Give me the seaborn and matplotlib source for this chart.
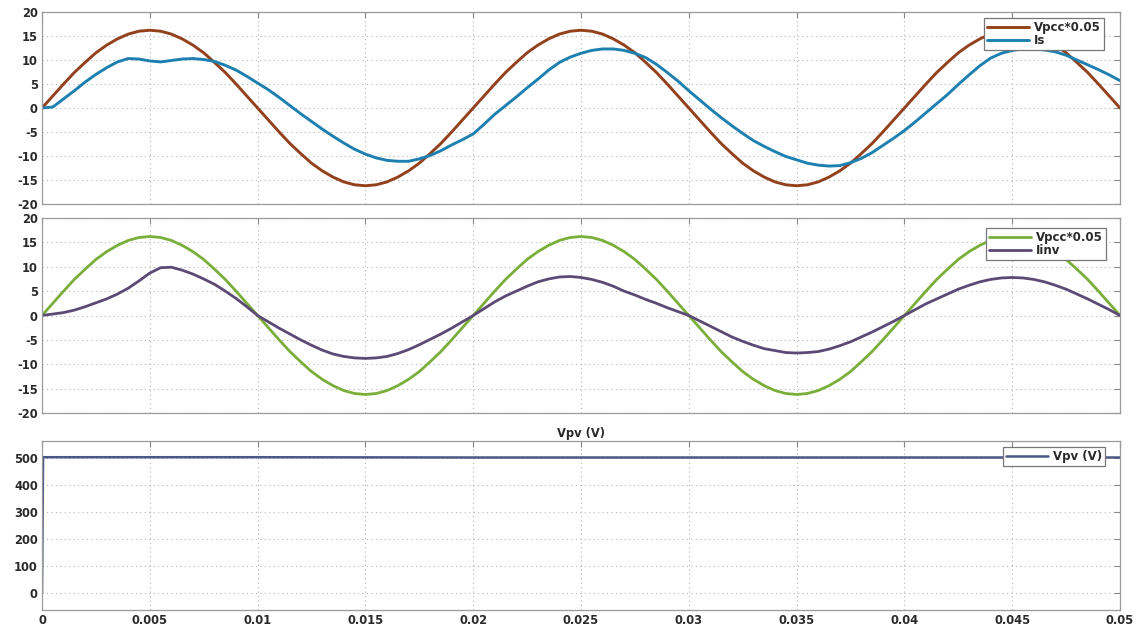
import numpy as np
import pandas as pd
import matplotlib
matplotlib.use("Agg")
import matplotlib.pyplot as plt
import seaborn as sns

# ---- data (time step 0.5 ms) ----
t = np.linspace(0, 0.05, 101)

vpcc_scaled = [0, 2.5, 5.0, 7.4, 9.5, 11.5, 13.1, 14.4, 15.4, 16.0,
               16.2, 16.0, 15.4, 14.4, 13.1, 11.5, 9.5, 7.4, 5.0, 2.5,
               0, -2.5, -5.0, -7.4, -9.5, -11.5, -13.1, -14.4, -15.4, -16.0,
               -16.2, -16.0, -15.4, -14.4, -13.1, -11.5, -9.5, -7.4, -5.0, -2.5,
               0, 2.5, 5.0, 7.4, 9.5, 11.5, 13.1, 14.4, 15.4, 16.0,
               16.2, 16.0, 15.4, 14.4, 13.1, 11.5, 9.5, 7.4, 5.0, 2.5,
               0, -2.5, -5.0, -7.4, -9.5, -11.5, -13.1, -14.4, -15.4, -16.0,
               -16.2, -16.0, -15.4, -14.4, -13.1, -11.5, -9.5, -7.4, -5.0, -2.5,
               0, 2.5, 5.0, 7.4, 9.5, 11.5, 13.1, 14.4, 15.4, 16.0,
               16.2, 16.0, 15.4, 14.4, 13.1, 11.5, 9.5, 7.4, 5.0, 2.5, 0]

i_s = [0, 0.2, 1.9, 3.6, 5.4, 7.0, 8.4, 9.6, 10.3, 10.2,
       9.8, 9.6, 9.9, 10.2, 10.3, 10.1, 9.7, 8.9, 7.9, 6.6,
       5.2, 3.8, 2.2, 0.5, -1.2, -2.8, -4.4, -5.9, -7.3, -8.6,
       -9.6, -10.4, -10.9, -11.1, -11.1, -10.6, -9.9, -8.9, -7.7, -6.6,
       -5.4, -3.4, -1.3, 0.5, 2.3, 4.2, 6.0, 7.9, 9.5, 10.6,
       11.4, 12.0, 12.3, 12.3, 12.0, 11.4, 10.5, 9.1, 7.4, 5.6,
       3.6, 1.7, -0.2, -2.0, -3.7, -5.3, -6.8, -8.0, -9.1, -10.1,
       -10.8, -11.5, -11.9, -12.1, -12.0, -11.4, -10.5, -9.3, -7.8, -6.3,
       -4.7, -2.9, -1.0, 0.9, 2.8, 4.9, 6.9, 8.8, 10.4, 11.4,
       12.0, 12.3, 12.3, 12.1, 11.7, 11.0, 10.0, 9.0, 8.0, 6.9, 5.7]

i_inv = [0, 0.3, 0.6, 1.1, 1.8, 2.6, 3.4, 4.4, 5.6, 7.1,
         8.7, 9.8, 9.9, 9.3, 8.5, 7.5, 6.4, 5.0, 3.5, 1.8,
         0, -1.3, -2.6, -3.8, -5.0, -6.1, -7.1, -7.9, -8.4, -8.7,
         -8.8, -8.7, -8.4, -7.8, -7.0, -6.0, -4.9, -3.8, -2.6, -1.3,
         0, 1.4, 2.8, 4.0, 5.0, 6.0, 6.9, 7.5, 7.9, 8.0,
         7.8, 7.4, 6.8, 6.0, 5.0, 4.2, 3.3, 2.5, 1.6, 0.8,
         0, -1.1, -2.2, -3.3, -4.4, -5.3, -6.1, -6.8, -7.2, -7.6,
         -7.7, -7.6, -7.4, -6.9, -6.2, -5.4, -4.4, -3.4, -2.3, -1.2,
         0, 1.2, 2.4, 3.4, 4.4, 5.4, 6.2, 6.9, 7.4, 7.7,
         7.8, 7.7, 7.4, 6.9, 6.2, 5.4, 4.4, 3.4, 2.3, 1.2, 0]

vpv_t = [0, 0.00005, 0.01, 0.02, 0.03, 0.04, 0.05]
vpv = [0, 503, 503, 502, 502, 502, 502]

x_ticks = [0, 0.005, 0.01, 0.015, 0.02, 0.025, 0.03, 0.035, 0.04, 0.045, 0.05]
x_tick_labels = ["0", "0.005", "0.01", "0.015", "0.02", "0.025", "0.03",
                 "0.035", "0.04", "0.045", "0.05"]
y_ticks_ac = [-20, -15, -10, -5, 0, 5, 10, 15, 20]
y_ticks_dc = [0, 100, 200, 300, 400, 500]

# ---- style ----
sns.set_theme(style="white")
plt.rcParams['font.family'] = ['DejaVu Sans']
plt.rcParams['axes.unicode_minus'] = False

fig = plt.figure(figsize=(11.44, 6.32), dpi=100)
W, H = 1144, 632
def ax_at(x0, y0, x1, y1):
    return fig.add_axes([x0 / W, 1 - y1 / H, (x1 - x0) / W, (y1 - y0) / H])

ax1 = ax_at(42, 12, 1120, 204)
ax2 = ax_at(42, 218, 1120, 413)
ax3 = ax_at(42, 441, 1120, 610)

c_v1 = "#93401c"
c_is = "#1d80b0"
c_v2 = "#7aae3a"
c_inv = "#5c4a76"
c_pv = "#4a5886"

df = pd.DataFrame({"t": t, "vpcc": vpcc_scaled, "is": i_s, "inv": i_inv})
dpv = pd.DataFrame({"t": vpv_t, "vpv": vpv})

sns.lineplot(data=df, x="t", y="vpcc", ax=ax1, color=c_v1, lw=2.1, label="Vpcc*0.05")
sns.lineplot(data=df, x="t", y="is", ax=ax1, color=c_is, lw=2.1, label="Is")
sns.lineplot(data=df, x="t", y="vpcc", ax=ax2, color=c_v2, lw=2.0, label="Vpcc*0.05")
sns.lineplot(data=df, x="t", y="inv", ax=ax2, color=c_inv, lw=2.0, label="Iinv")
sns.lineplot(data=dpv, x="t", y="vpv", ax=ax3, color=c_pv, lw=1.8, label="Vpv (V)")

for ax in (ax1, ax2, ax3):
    ax.set_xlim(0, 0.05)
    ax.set_xticks(x_ticks)
    ax.set_xlabel("")
    ax.set_ylabel("")
    ax.grid(True, linestyle=(0, (1, 3)), color="#b5b5b5", lw=0.8)
    ax.tick_params(direction="in", top=True, right=True, length=4.5,
                   width=0.8, color="#888888", labelsize=8.3,
                   labelcolor="#2a2a2a", pad=3)
    for lbl in ax.get_xticklabels() + ax.get_yticklabels():
        lbl.set_fontweight("bold")
    for s in ax.spines.values():
        s.set_color("#9a9a9a")
        s.set_linewidth(0.9)

for ax in (ax1, ax2):
    ax.set_ylim(-20, 20)
    ax.set_yticks(y_ticks_ac)
    ax.set_yticklabels([str(v) for v in y_ticks_ac], fontweight="bold")
    ax.set_xticklabels([])

ax3.set_ylim(-62, 563)
ax3.set_yticks(y_ticks_dc)
ax3.set_yticklabels([str(v) for v in y_ticks_dc], fontweight="bold")
ax3.set_xticklabels(x_tick_labels, fontweight="bold")
ax3.set_title("Vpv (V)", fontsize=8.3, fontweight="bold", color="#2a2a2a", pad=3)

leg_kw = dict(loc="upper right", borderaxespad=0, fancybox=False, framealpha=1,
              edgecolor="#777777", handlelength=3.6, handletextpad=0.4,
              labelspacing=0.05, borderpad=0.25,
              prop={"size": 8.5, "weight": "bold"})
l1 = ax1.legend(bbox_to_anchor=(0.985, 0.97), **leg_kw)
l2 = ax2.legend(bbox_to_anchor=(0.987, 0.95), **leg_kw)
l3 = ax3.legend(bbox_to_anchor=(0.986, 0.965), **leg_kw)
for l in (l1, l2, l3):
    l.get_frame().set_linewidth(0.9)
    for txt in l.get_texts():
        txt.set_color("#2a2a2a")

fig.savefig("out.png", dpi=100)
